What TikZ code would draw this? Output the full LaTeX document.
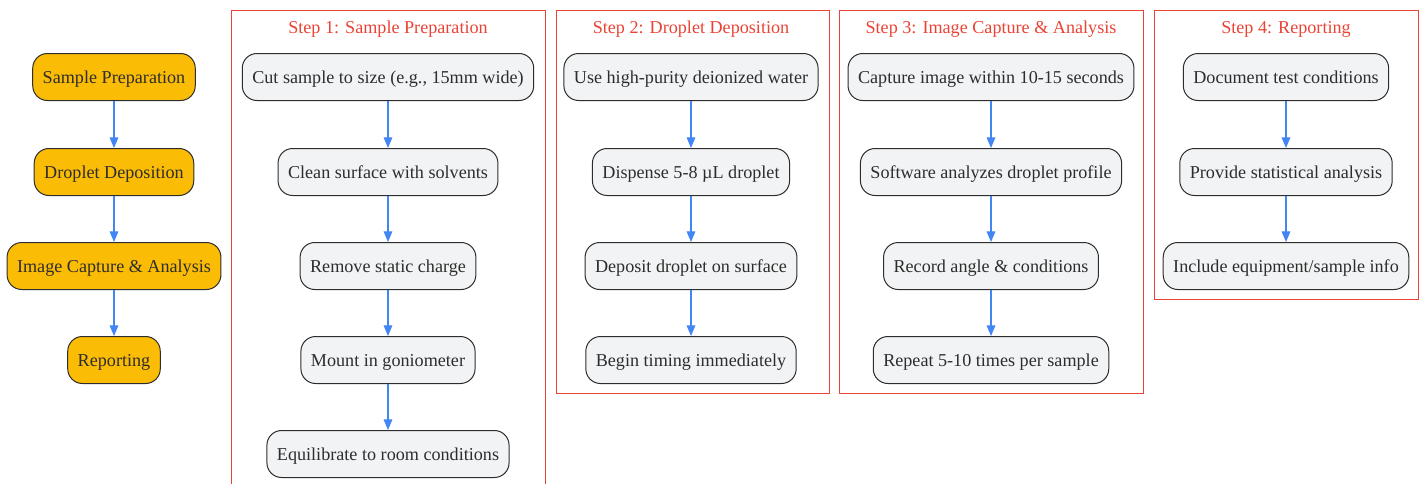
\documentclass[tikz,border=0pt]{standalone}
\usepackage{fontspec}
\setmainfont{Liberation Serif}
\usetikzlibrary{arrows.meta}
\definecolor{gold}{HTML}{FBBC05}
\definecolor{frame}{HTML}{EA4335}
\definecolor{flowblue}{HTML}{4285F4}
\definecolor{taskgray}{HTML}{F1F3F4}
\definecolor{ink}{HTML}{2D2D2D}

\begin{document}
\begin{tikzpicture}[x=0.75pt,y=-0.75pt,
  font=\fontsize{13.6}{16}\selectfont,
  box/.style={draw=ink,line width=0.75pt,rounded corners=11pt,text=ink,
    minimum height=35.25pt,inner xsep=7.5pt,text height=9.5pt,text depth=0pt},
  phase/.style={box,fill=gold},
  task/.style={box,fill=taskgray},
  flow/.style={draw=flowblue,line width=0.8pt,-{Triangle[length=8pt,width=6.5pt]}},
  cluster/.style={draw=frame,line width=0.75pt},
  steptitle/.style={text=frame,text height=9.5pt,text depth=0pt}]
\useasboundingbox (0,0) rectangle (1421,483);
\clip (0,0) rectangle (1421,483);
% overview
\node[phase] (prep) at (114,77) {Sample Preparation};
\node[phase] (depo) at (114,172) {Droplet Deposition};
\node[phase] (capt) at (114,266) {Image Capture \& Analysis};
\node[phase] (rept) at (114,360) {Reporting};
\draw[flow] (prep) -- (depo);
\draw[flow] (depo) -- (capt);
\draw[flow] (capt) -- (rept);
% step 1
\draw[cluster] (231,10) rectangle (545,492);
\node[steptitle] (t1) at (388,27) {Step 1: Sample Preparation};
\node[task] (cut) at (388,77) {Cut sample to size (e.g., 15mm wide)};
\node[task] (clean) at (388,172) {Clean surface with solvents};
\node[task] (static) at (388,266) {Remove static charge};
\node[task] (mount) at (388,360) {Mount in goniometer};
\node[task] (equil) at (388,454) {Equilibrate to room conditions};
\draw[flow] (cut) -- (clean);
\draw[flow] (clean) -- (static);
\draw[flow] (static) -- (mount);
\draw[flow] (mount) -- (equil);
% step 2
\draw[cluster] (556,10) rectangle (829,393);
\node[steptitle] (t2) at (691,27) {Step 2: Droplet Deposition};
\node[task] (water) at (691,77) {Use high-purity deionized water};
\node[task] (disp) at (691,172) {Dispense 5-8 µL droplet};
\node[task] (dep) at (691,266) {Deposit droplet on surface};
\node[task] (timing) at (691,360) {Begin timing immediately};
\draw[flow] (water) -- (disp);
\draw[flow] (disp) -- (dep);
\draw[flow] (dep) -- (timing);
% step 3
\draw[cluster] (839,10) rectangle (1143,393);
\node[steptitle] (t3) at (991,27) {Step 3: Image Capture \& Analysis};
\node[task] (shot) at (991,77) {Capture image within 10-15 seconds};
\node[task] (soft) at (991,172) {Software analyzes droplet profile};
\node[task] (rec) at (991,266) {Record angle \& conditions};
\node[task] (rep) at (991,360) {Repeat 5-10 times per sample};
\draw[flow] (shot) -- (soft);
\draw[flow] (soft) -- (rec);
\draw[flow] (rec) -- (rep);
% step 4
\draw[cluster] (1154,10) rectangle (1418,299);
\node[steptitle] (t4) at (1286,27) {Step 4: Reporting};
\node[task] (doc) at (1286,77) {Document test conditions};
\node[task] (stat) at (1286,172) {Provide statistical analysis};
\node[task] (info) at (1286,266) {Include equipment/sample info};
\draw[flow] (doc) -- (stat);
\draw[flow] (stat) -- (info);
\end{tikzpicture}
\end{document}
